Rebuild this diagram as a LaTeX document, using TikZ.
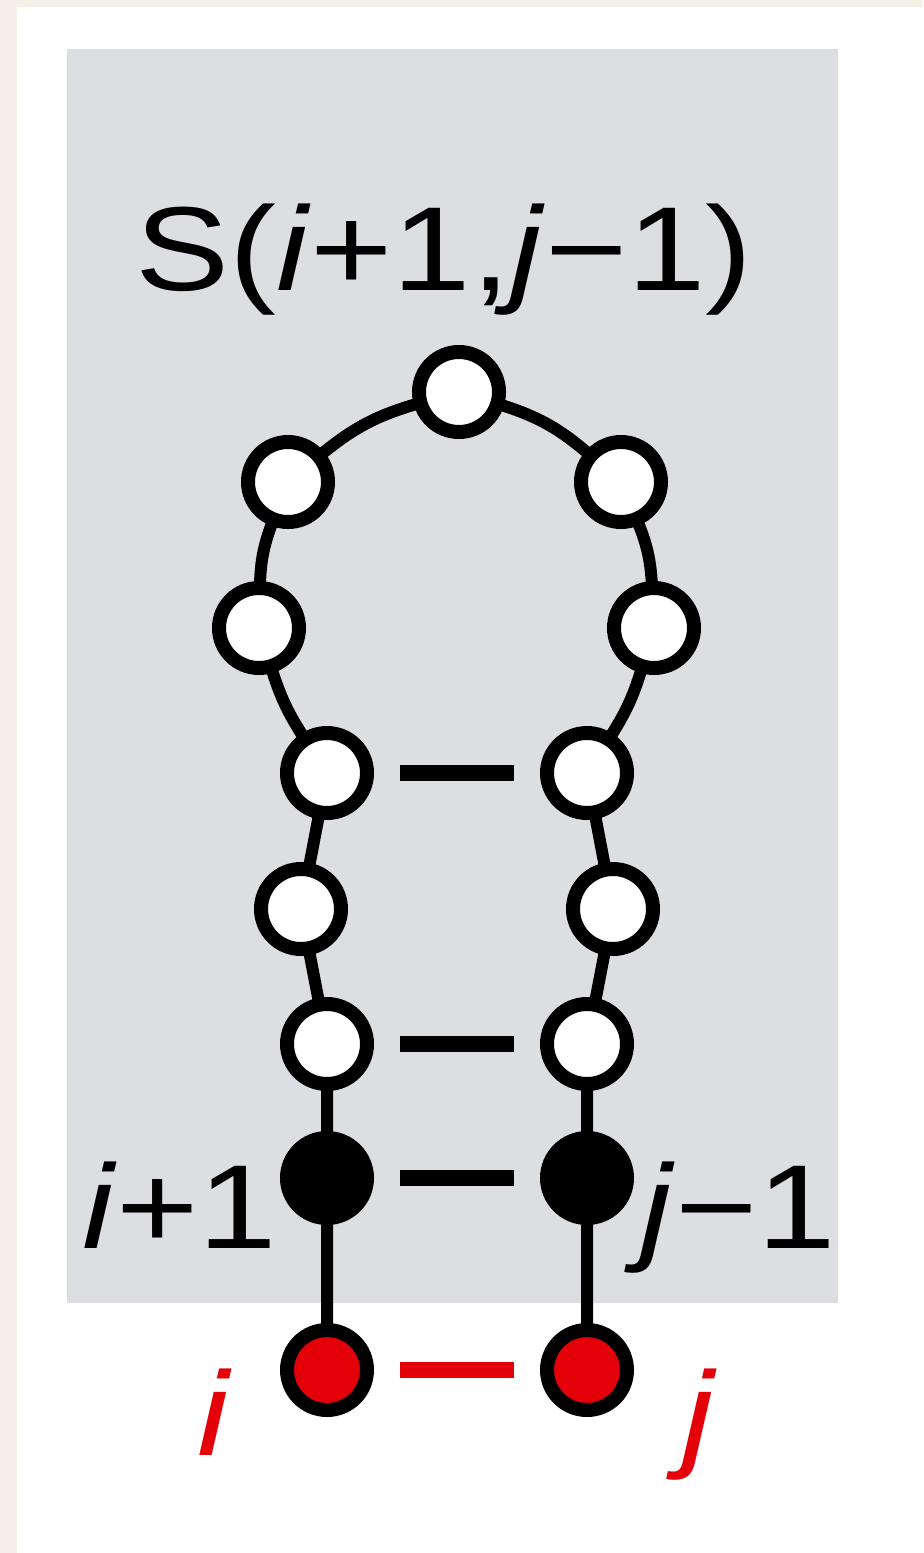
\documentclass[tikz,border=0pt]{standalone}
\usepackage{fontspec}
\setmainfont{Liberation Sans}
\newfontfamily\lblfont[FakeStretch=1.18]{Liberation Sans}
\usepackage{tikz}

\definecolor{paper}{RGB}{244,240,232}
\definecolor{panel}{RGB}{220,222,225}
\definecolor{basered}{RGB}{228,0,8}

\tikzset{
  nt/.style={circle,draw=black,line width=0.14cm,minimum size=0.80cm,inner sep=0pt,outer sep=0pt},
  unpaired/.style={nt,fill=white},
  closing/.style={nt,fill=black},
  outer/.style={nt,fill=basered},
  bond/.style={line width=0.12cm},
  pair/.style={line width=0.155cm,shorten <=0.33cm,shorten >=0.33cm},
  lbl/.style={font=\lblfont\fontsize{34}{40}\selectfont,inner sep=0pt}
}

\begin{document}
\begin{tikzpicture}
  % page and shaded box
  \fill[paper] (0,0) rectangle (9.23,-15.53);
  \fill[white] (0.17,-0.07) rectangle (9.23,-15.53);
  \fill[panel] (0.67,-0.49) rectangle (8.38,-13.03);
  \useasboundingbox (0,0) rectangle (9.23,-15.53);

  \node[lbl,anchor=base] (title) at (4.44,-2.90)
    {S(\textit{i}+1,\textit{j}−1)};

  % hairpin loop
  \node[unpaired] (hp) at (4.59,-3.92) {};
  \node[unpaired] (l1) at (2.88,-4.82) {};
  \node[unpaired] (l2) at (2.59,-6.28) {};
  \node[unpaired] (r1) at (6.21,-4.82) {};
  \node[unpaired] (r2) at (6.54,-6.28) {};
  % stem
  \node[unpaired] (a1) at (3.27,-7.73) {};
  \node[unpaired] (a2) at (3.01,-9.09) {};
  \node[unpaired] (a3) at (3.27,-10.44) {};
  \node[unpaired] (b1) at (5.87,-7.73) {};
  \node[unpaired] (b2) at (6.13,-9.09) {};
  \node[unpaired] (b3) at (5.87,-10.44) {};
  \node[closing] (ip) at (3.27,-11.78) {};
  \node[closing] (jm) at (5.87,-11.78) {};
  \node[outer] (ni) at (3.27,-13.70) {};
  \node[outer] (nj) at (5.87,-13.70) {};

  \draw[bond] (a1) to[bend left=8] (l2);
  \draw[bond] (l2) to[bend left=10] (l1);
  \draw[bond] (l1) to[bend left=12] (hp);
  \draw[bond] (hp) to[bend left=12] (r1);
  \draw[bond] (r1) to[bend left=10] (r2);
  \draw[bond] (r2) to[bend left=8] (b1);
  \draw[bond] (a1) -- (a2) -- (a3) -- (ip) -- (ni);
  \draw[bond] (b1) -- (b2) -- (b3) -- (jm) -- (nj);

  \draw[pair] (a1) -- (b1);
  \draw[pair] (a3) -- (b3);
  \draw[pair] (ip) -- (jm);
  \draw[pair,basered] (ni) -- (nj);

  \node[lbl,anchor=base east] (iplbl) at (2.78,-12.48) {\textit{i}+1};
  \node[lbl,anchor=base west] (jmlbl) at (6.40,-12.48) {\textit{j}−1};
  \node[lbl,anchor=base east,basered] (ilbl) at (2.33,-14.55) {\textit{i}};
  \node[lbl,anchor=base west,basered] (jlbl) at (6.82,-14.55) {\textit{j}};
\end{tikzpicture}
\end{document}
